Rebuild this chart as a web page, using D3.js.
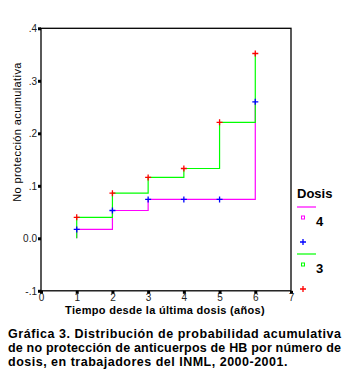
<!DOCTYPE html>
<html>
<head>
<meta charset="utf-8">
<script src="https://cdn.jsdelivr.net/npm/d3@7"></script>
<style>
body { margin: 0; background: #fff; }
svg { display: block; font-family: Arial, "Liberation Sans", sans-serif; }
</style>
</head>
<body>
<script>
// years since last dose, cumulative non-protection per dose group
var years = [1, 2, 3, 4, 5, 6];
var dosis4 = [0.017, 0.053, 0.074, 0.074, 0.074, 0.26];
var dosis3 = [0.040, 0.086, 0.116, 0.133, 0.221, 0.352];
var xTicks = [0, 1, 2, 3, 4, 5, 6, 7];
var yTicks = [-0.1, 0, 0.1, 0.2, 0.3, 0.4];
var yTickLabels = ["-.1", "0.0", ".1", ".2", ".3", ".4"];
var groups = ["4", "3"];

var width = 348, height = 384;
var svg = d3.select("body").append("svg")
    .attr("width", width)
    .attr("height", height);

var x = d3.scaleLinear().domain([0, 7]).range([41, 291]);
var y = d3.scaleLinear().domain([-0.1, 0.4]).range([290.8, 28.3]);

// frame
svg.append("rect")
    .attr("x", x(0)).attr("y", y(0.4))
    .attr("width", x(7) - x(0)).attr("height", y(-0.1) - y(0.4))
    .style("fill", "none").style("stroke", "#000").style("stroke-width", 1.3);

var xAxis = svg.append("g")
    .attr("transform", "translate(0," + y(-0.1) + ")")
    .call(d3.axisBottom(x).tickValues(xTicks).tickSize(3).tickPadding(0).tickFormat(d3.format("d")));
var yAxis = svg.append("g")
    .attr("transform", "translate(" + x(0) + ",0)")
    .call(d3.axisLeft(y).tickValues(yTicks).tickSize(3).tickPadding(1)
        .tickFormat(function(d, i){ return yTickLabels[i]; }));

[xAxis, yAxis].forEach(function(a){
    a.select(".domain").remove();
    a.selectAll(".tick line").style("stroke", "#000").style("stroke-width", 3);
    a.selectAll(".tick text").style("font-size", "10px").style("fill", "#222")
        .style("font-family", "Arial, 'Liberation Sans', sans-serif");
});

// step curves
var line = d3.line()
    .x(function(d){ return x(d[0]); })
    .y(function(d){ return y(d[1]); })
    .curve(d3.curveStepAfter);

var drawGroup = function(vals, lineColor, markColor){
    var pts = [[years[0], 0]].concat(years.map(function(t, i){ return [t, vals[i]]; }));
    svg.append("path")
        .attr("d", line(pts))
        .style("fill", "none").style("stroke", lineColor).style("stroke-width", 1.2);
    return {pts: years.map(function(t, i){ return [t, vals[i]]; }), color: markColor};
}

var plus = function(cx, cy, color){
    svg.append("path")
        .attr("d", "M" + (cx - 3) + "," + cy + "H" + (cx + 3) + "M" + cx + "," + (cy - 3) + "V" + (cy + 3))
        .style("stroke", color).style("stroke-width", 1.3).style("fill", "none");
}

var m4 = drawGroup(dosis4, "#ff00ff", "#0000ff");
var m3 = drawGroup(dosis3, "#00ff00", "#ff0000");
[m4, m3].forEach(function(g){
    g.pts.forEach(function(p){ plus(x(p[0]), y(p[1]), g.color); });
});

// axis titles
svg.append("text")
    .attr("transform", "translate(21,132) rotate(-90)")
    .attr("text-anchor", "middle")
    .style("font-size", "11px").style("letter-spacing", "0.4px")
    .text("No protección acumulativa");
svg.append("text")
    .attr("x", 165).attr("y", 313.5)
    .attr("text-anchor", "middle")
    .style("font-size", "11px").style("font-weight", "bold").style("letter-spacing", "0.3px")
    .text("Tiempo desde la última dosis (años)");

// legend
var lg = svg.append("g");
lg.append("text").attr("x", 297).attr("y", 198)
    .style("font-size", "13px").style("font-weight", "bold").text("Dosis");
var legendRows = [
    {label: groups[0], line: "#ff00ff", mark: "#0000ff", y0: 207},
    {label: groups[1], line: "#00ff00", mark: "#ff0000", y0: 254}
];
legendRows.forEach(function(r){
    lg.append("line").attr("x1", 297).attr("x2", 316).attr("y1", r.y0).attr("y2", r.y0)
        .style("stroke", r.line).style("stroke-width", 1.2);
    lg.append("rect").attr("x", 301.5).attr("y", r.y0 + 9).attr("width", 3).attr("height", 3)
        .style("fill", "none").style("stroke", r.line).style("stroke-width", 1);
    lg.append("text").attr("x", 316).attr("y", r.y0 + 19)
        .style("font-size", "13px").style("font-weight", "bold").text(r.label);
    plus(303, r.y0 + 35, r.mark);
});

// caption
var caption = [
    "Gráfica 3. Distribución de probabilidad acumulativa",
    "de no protección de anticuerpos de HB por número de",
    "dosis, en trabajadores del INML, 2000-2001."
];
caption.forEach(function(c, i){
    var t = svg.append("text")
        .attr("x", 8).attr("y", 338 + i * 14)
        .style("font-size", "12.5px").style("font-weight", "bold")
        .text(c);
    if (i < 2) t.attr("textLength", 333).attr("lengthAdjust", "spacing");
    else t.style("letter-spacing", "0.5px");
});
</script>
</body>
</html>
